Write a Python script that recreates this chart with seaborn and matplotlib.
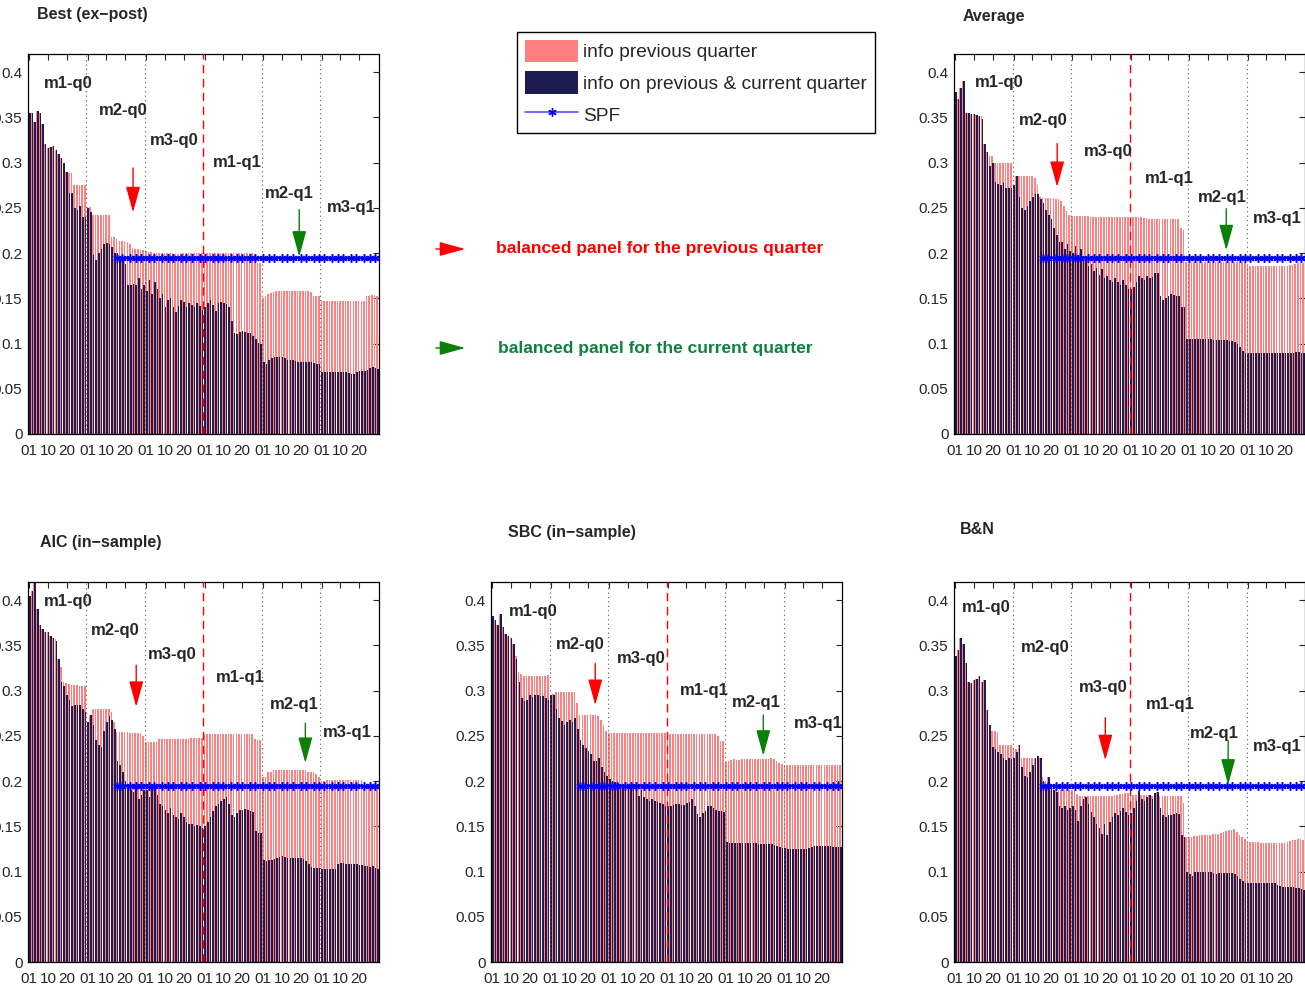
import matplotlib
matplotlib.use("Agg")

import matplotlib.pyplot as plt
from matplotlib.font_manager import fontManager
from matplotlib.lines import Line2D
from matplotlib.patches import FancyArrowPatch, Patch
import numpy as np
import seaborn as sns


# six months of 22 trading days each, one line per month
best_prev = [
    0.355, 0.355, 0.345, 0.357, 0.355, 0.343, 0.320, 0.316, 0.317, 0.318, 0.314, 0.310, 0.305, 0.300, 0.290, 0.288, 0.288, 0.275, 0.275, 0.275, 0.275, 0.275,
    0.251, 0.251, 0.242, 0.242, 0.242, 0.242, 0.242, 0.242, 0.242, 0.218, 0.218, 0.215, 0.213, 0.213, 0.213, 0.212, 0.210, 0.206, 0.205, 0.205, 0.203, 0.203,
    0.202, 0.201, 0.201, 0.200, 0.200, 0.200, 0.200, 0.200, 0.200, 0.200, 0.200, 0.199, 0.199, 0.199, 0.200, 0.200, 0.200, 0.200, 0.200, 0.200, 0.200, 0.200,
    0.200, 0.200, 0.200, 0.200, 0.200, 0.200, 0.200, 0.200, 0.200, 0.200, 0.200, 0.200, 0.200, 0.200, 0.200, 0.200, 0.200, 0.200, 0.200, 0.199, 0.189, 0.189,
    0.150, 0.152, 0.155, 0.156, 0.157, 0.158, 0.158, 0.158, 0.158, 0.158, 0.158, 0.158, 0.158, 0.158, 0.158, 0.158, 0.158, 0.158, 0.157, 0.153, 0.152, 0.152,
    0.147, 0.147, 0.147, 0.147, 0.147, 0.147, 0.147, 0.147, 0.147, 0.147, 0.147, 0.147, 0.147, 0.147, 0.147, 0.147, 0.147, 0.152, 0.153, 0.154, 0.154, 0.153,
]
best_both = [
    0.355, 0.355, 0.345, 0.357, 0.355, 0.343, 0.320, 0.316, 0.317, 0.318, 0.314, 0.310, 0.305, 0.300, 0.290, 0.266, 0.266, 0.250, 0.248, 0.252, 0.240, 0.240,
    0.250, 0.245, 0.198, 0.192, 0.200, 0.205, 0.210, 0.211, 0.210, 0.207, 0.200, 0.200, 0.196, 0.192, 0.188, 0.165, 0.165, 0.166, 0.165, 0.172, 0.160, 0.165,
    0.158, 0.170, 0.155, 0.168, 0.160, 0.150, 0.155, 0.140, 0.148, 0.150, 0.140, 0.135, 0.142, 0.148, 0.146, 0.140, 0.145, 0.143, 0.140, 0.145, 0.142, 0.137,
    0.140, 0.145, 0.148, 0.143, 0.136, 0.145, 0.146, 0.145, 0.144, 0.140, 0.125, 0.112, 0.110, 0.113, 0.114, 0.113, 0.112, 0.112, 0.108, 0.105, 0.101, 0.100,
    0.080, 0.077, 0.082, 0.084, 0.085, 0.085, 0.085, 0.085, 0.084, 0.082, 0.082, 0.082, 0.081, 0.080, 0.080, 0.080, 0.080, 0.080, 0.080, 0.078, 0.077, 0.077,
    0.069, 0.069, 0.069, 0.069, 0.069, 0.069, 0.069, 0.069, 0.068, 0.068, 0.067, 0.066, 0.066, 0.068, 0.070, 0.070, 0.070, 0.071, 0.073, 0.074, 0.073, 0.072,
]

avg_prev = [
    0.378, 0.370, 0.382, 0.390, 0.355, 0.355, 0.354, 0.354, 0.353, 0.352, 0.352, 0.320, 0.312, 0.307, 0.307, 0.300, 0.300, 0.300, 0.300, 0.300, 0.300, 0.300,
    0.275, 0.285, 0.285, 0.285, 0.285, 0.285, 0.285, 0.285, 0.283, 0.275, 0.262, 0.261, 0.261, 0.261, 0.261, 0.261, 0.260, 0.260, 0.258, 0.252, 0.246, 0.242,
    0.241, 0.241, 0.241, 0.241, 0.241, 0.241, 0.241, 0.240, 0.240, 0.240, 0.240, 0.240, 0.240, 0.240, 0.240, 0.240, 0.240, 0.240, 0.240, 0.240, 0.240, 0.240,
    0.240, 0.240, 0.240, 0.240, 0.240, 0.239, 0.239, 0.238, 0.238, 0.238, 0.238, 0.238, 0.238, 0.238, 0.238, 0.238, 0.238, 0.238, 0.238, 0.228, 0.225, 0.190,
    0.190, 0.190, 0.190, 0.190, 0.190, 0.190, 0.190, 0.190, 0.190, 0.190, 0.190, 0.190, 0.190, 0.190, 0.190, 0.190, 0.190, 0.190, 0.190, 0.190, 0.190, 0.190,
    0.186, 0.186, 0.186, 0.186, 0.186, 0.186, 0.186, 0.186, 0.186, 0.186, 0.186, 0.186, 0.186, 0.186, 0.186, 0.186, 0.187, 0.187, 0.188, 0.189, 0.189, 0.189,
]
avg_both = [
    0.378, 0.370, 0.382, 0.390, 0.355, 0.355, 0.354, 0.354, 0.353, 0.352, 0.348, 0.320, 0.312, 0.296, 0.300, 0.278, 0.276, 0.275, 0.277, 0.272, 0.272, 0.272,
    0.275, 0.285, 0.262, 0.250, 0.248, 0.252, 0.258, 0.262, 0.265, 0.265, 0.260, 0.255, 0.248, 0.242, 0.238, 0.228, 0.220, 0.212, 0.212, 0.205, 0.210, 0.202,
    0.200, 0.208, 0.198, 0.205, 0.196, 0.192, 0.186, 0.188, 0.180, 0.183, 0.176, 0.182, 0.172, 0.175, 0.170, 0.168, 0.172, 0.168, 0.165, 0.170, 0.165, 0.160,
    0.160, 0.163, 0.168, 0.175, 0.172, 0.170, 0.175, 0.172, 0.174, 0.178, 0.178, 0.152, 0.148, 0.150, 0.153, 0.155, 0.154, 0.153, 0.152, 0.140, 0.140, 0.105,
    0.105, 0.105, 0.105, 0.105, 0.105, 0.105, 0.105, 0.105, 0.105, 0.104, 0.104, 0.104, 0.104, 0.104, 0.104, 0.103, 0.103, 0.102, 0.100, 0.096, 0.092, 0.090,
    0.090, 0.089, 0.089, 0.089, 0.089, 0.089, 0.089, 0.089, 0.089, 0.089, 0.089, 0.089, 0.089, 0.089, 0.089, 0.090, 0.090, 0.090, 0.091, 0.091, 0.090, 0.090,
]

aic_prev = [
    0.405, 0.410, 0.425, 0.390, 0.372, 0.368, 0.365, 0.365, 0.360, 0.358, 0.357, 0.335, 0.326, 0.310, 0.308, 0.307, 0.306, 0.306, 0.306, 0.305, 0.305, 0.305,
    0.265, 0.273, 0.280, 0.280, 0.280, 0.280, 0.280, 0.280, 0.280, 0.276, 0.265, 0.254, 0.254, 0.254, 0.254, 0.254, 0.253, 0.253, 0.253, 0.253, 0.253, 0.250,
    0.243, 0.243, 0.243, 0.243, 0.243, 0.246, 0.246, 0.246, 0.246, 0.246, 0.246, 0.246, 0.246, 0.246, 0.246, 0.246, 0.246, 0.248, 0.248, 0.248, 0.248, 0.248,
    0.252, 0.252, 0.252, 0.252, 0.252, 0.252, 0.252, 0.252, 0.252, 0.252, 0.252, 0.252, 0.252, 0.252, 0.252, 0.252, 0.252, 0.252, 0.252, 0.247, 0.245, 0.245,
    0.205, 0.205, 0.210, 0.210, 0.212, 0.212, 0.212, 0.212, 0.212, 0.212, 0.212, 0.212, 0.212, 0.212, 0.212, 0.212, 0.212, 0.210, 0.210, 0.210, 0.208, 0.205,
    0.200, 0.200, 0.201, 0.201, 0.201, 0.201, 0.201, 0.201, 0.201, 0.201, 0.201, 0.201, 0.201, 0.201, 0.201, 0.201, 0.196, 0.196, 0.196, 0.196, 0.196, 0.196,
]
aic_both = [
    0.405, 0.410, 0.425, 0.390, 0.372, 0.368, 0.365, 0.365, 0.360, 0.358, 0.355, 0.335, 0.310, 0.305, 0.295, 0.290, 0.283, 0.284, 0.284, 0.284, 0.280, 0.276,
    0.265, 0.273, 0.262, 0.245, 0.240, 0.238, 0.255, 0.265, 0.272, 0.268, 0.258, 0.222, 0.218, 0.210, 0.200, 0.192, 0.190, 0.188, 0.192, 0.180, 0.185, 0.190,
    0.190, 0.182, 0.193, 0.192, 0.185, 0.175, 0.172, 0.168, 0.165, 0.170, 0.162, 0.160, 0.158, 0.165, 0.160, 0.155, 0.152, 0.153, 0.150, 0.151, 0.150, 0.148,
    0.150, 0.155, 0.160, 0.167, 0.172, 0.175, 0.178, 0.180, 0.182, 0.175, 0.163, 0.160, 0.165, 0.168, 0.168, 0.169, 0.168, 0.167, 0.166, 0.145, 0.143, 0.143,
    0.113, 0.112, 0.113, 0.113, 0.114, 0.115, 0.116, 0.117, 0.116, 0.115, 0.115, 0.115, 0.115, 0.115, 0.115, 0.114, 0.112, 0.108, 0.105, 0.104, 0.104, 0.104,
    0.103, 0.103, 0.103, 0.103, 0.103, 0.103, 0.108, 0.109, 0.109, 0.108, 0.108, 0.108, 0.108, 0.108, 0.107, 0.107, 0.106, 0.106, 0.105, 0.106, 0.104, 0.103,
]

sbc_prev = [
    0.382, 0.378, 0.372, 0.385, 0.370, 0.362, 0.360, 0.358, 0.352, 0.338, 0.320, 0.318, 0.316, 0.316, 0.316, 0.316, 0.316, 0.316, 0.316, 0.316, 0.316, 0.317,
    0.295, 0.296, 0.298, 0.298, 0.298, 0.298, 0.298, 0.298, 0.298, 0.298, 0.286, 0.273, 0.273, 0.273, 0.273, 0.273, 0.273, 0.273, 0.272, 0.268, 0.262, 0.255,
    0.253, 0.253, 0.253, 0.253, 0.253, 0.253, 0.253, 0.253, 0.253, 0.253, 0.253, 0.253, 0.253, 0.253, 0.253, 0.253, 0.253, 0.253, 0.253, 0.253, 0.253, 0.253,
    0.252, 0.252, 0.252, 0.252, 0.252, 0.252, 0.252, 0.252, 0.252, 0.252, 0.252, 0.252, 0.252, 0.252, 0.252, 0.252, 0.252, 0.252, 0.252, 0.250, 0.244, 0.244,
    0.221, 0.222, 0.223, 0.224, 0.223, 0.223, 0.224, 0.224, 0.224, 0.224, 0.224, 0.224, 0.224, 0.224, 0.224, 0.224, 0.224, 0.225, 0.224, 0.222, 0.220, 0.219,
    0.218, 0.218, 0.218, 0.218, 0.218, 0.218, 0.218, 0.218, 0.218, 0.218, 0.218, 0.218, 0.218, 0.218, 0.218, 0.218, 0.218, 0.218, 0.218, 0.218, 0.218, 0.218,
]
sbc_both = [
    0.382, 0.378, 0.372, 0.385, 0.370, 0.362, 0.360, 0.358, 0.352, 0.335, 0.310, 0.292, 0.288, 0.290, 0.295, 0.293, 0.295, 0.295, 0.294, 0.294, 0.292, 0.290,
    0.295, 0.295, 0.280, 0.270, 0.266, 0.262, 0.265, 0.268, 0.265, 0.270, 0.258, 0.245, 0.240, 0.236, 0.233, 0.230, 0.222, 0.222, 0.225, 0.215, 0.210, 0.206,
    0.202, 0.200, 0.199, 0.198, 0.197, 0.196, 0.195, 0.194, 0.193, 0.192, 0.191, 0.183, 0.190, 0.182, 0.180, 0.178, 0.180, 0.178, 0.177, 0.176, 0.175, 0.172,
    0.172, 0.172, 0.174, 0.175, 0.175, 0.174, 0.173, 0.176, 0.177, 0.180, 0.172, 0.164, 0.160, 0.165, 0.167, 0.172, 0.172, 0.170, 0.168, 0.167, 0.167, 0.166,
    0.133, 0.132, 0.132, 0.132, 0.132, 0.132, 0.132, 0.132, 0.131, 0.131, 0.131, 0.131, 0.130, 0.130, 0.130, 0.130, 0.130, 0.130, 0.129, 0.128, 0.127, 0.126,
    0.126, 0.125, 0.125, 0.125, 0.125, 0.125, 0.125, 0.125, 0.125, 0.126, 0.127, 0.128, 0.128, 0.128, 0.128, 0.128, 0.128, 0.128, 0.127, 0.127, 0.127, 0.127,
]

bn_prev = [
    0.338, 0.345, 0.358, 0.352, 0.330, 0.310, 0.308, 0.312, 0.313, 0.316, 0.310, 0.312, 0.278, 0.262, 0.255, 0.255, 0.254, 0.240, 0.240, 0.240, 0.240, 0.240,
    0.235, 0.235, 0.240, 0.225, 0.225, 0.225, 0.225, 0.225, 0.225, 0.228, 0.226, 0.205, 0.200, 0.205, 0.198, 0.194, 0.191, 0.190, 0.190, 0.190, 0.190, 0.190,
    0.190, 0.190, 0.186, 0.183, 0.183, 0.183, 0.183, 0.183, 0.183, 0.183, 0.183, 0.183, 0.183, 0.183, 0.184, 0.184, 0.185, 0.185, 0.186, 0.186, 0.187, 0.187,
    0.185, 0.185, 0.185, 0.189, 0.185, 0.185, 0.185, 0.185, 0.184, 0.187, 0.188, 0.184, 0.184, 0.184, 0.184, 0.184, 0.184, 0.184, 0.184, 0.184, 0.176, 0.138,
    0.138, 0.138, 0.139, 0.139, 0.140, 0.140, 0.140, 0.140, 0.140, 0.141, 0.141, 0.142, 0.143, 0.144, 0.145, 0.146, 0.146, 0.147, 0.144, 0.140, 0.138, 0.136,
    0.133, 0.133, 0.133, 0.133, 0.133, 0.132, 0.132, 0.132, 0.132, 0.132, 0.132, 0.132, 0.132, 0.132, 0.132, 0.133, 0.134, 0.135, 0.135, 0.136, 0.136, 0.135,
]
bn_both = [
    0.338, 0.345, 0.358, 0.352, 0.330, 0.310, 0.308, 0.312, 0.313, 0.316, 0.310, 0.312, 0.278, 0.262, 0.238, 0.235, 0.232, 0.230, 0.225, 0.223, 0.225, 0.224,
    0.226, 0.232, 0.240, 0.215, 0.206, 0.205, 0.210, 0.218, 0.225, 0.228, 0.225, 0.200, 0.196, 0.205, 0.195, 0.190, 0.188, 0.172, 0.170, 0.172, 0.168, 0.170,
    0.172, 0.168, 0.156, 0.172, 0.180, 0.182, 0.175, 0.166, 0.160, 0.152, 0.148, 0.142, 0.152, 0.140, 0.155, 0.160, 0.165, 0.163, 0.167, 0.170, 0.166, 0.163,
    0.165, 0.170, 0.178, 0.189, 0.180, 0.178, 0.182, 0.185, 0.180, 0.187, 0.188, 0.170, 0.163, 0.160, 0.162, 0.163, 0.164, 0.165, 0.164, 0.140, 0.138, 0.100,
    0.097, 0.095, 0.099, 0.100, 0.100, 0.100, 0.100, 0.100, 0.099, 0.098, 0.097, 0.098, 0.098, 0.098, 0.098, 0.098, 0.098, 0.097, 0.095, 0.092, 0.090, 0.087,
    0.087, 0.087, 0.087, 0.087, 0.087, 0.087, 0.087, 0.087, 0.087, 0.087, 0.087, 0.085, 0.084, 0.083, 0.083, 0.083, 0.083, 0.083, 0.082, 0.082, 0.081, 0.080,
]

SPF_LEVEL = 0.194
SPF_START_DAY = 33

MONTH_LABELS = ["m1-q0", "m2-q0", "m3-q0", "m1-q1", "m2-q1", "m3-q1"]
DAY_TICK_LABELS = ["01", "10", "20"]
DAY_TICK_OFFSETS = [0, 7, 14]
Y_TICKS = [0, 0.05, 0.1, 0.15, 0.2, 0.25, 0.3, 0.35, 0.4]
Y_TICK_LABELS = ["0", "0.05", "0.1", "0.15", "0.2", "0.25", "0.3", "0.35", "0.4"]

DAYS_PER_MONTH = 22
N_DAYS = 6 * DAYS_PER_MONTH

PINK = "#ff8080"
NAVY = "#1c1c50"
SPF_BLUE = "#0000ff"
RED = "#ff0000"
GREEN = "#0a800a"
NOTE_GREEN = "#108040"
ASTERISK = (6, 2, 0)

W, H = 1305, 990

PANELS = [
    dict(prev=best_prev, both=best_both, title="Best (ex\u2212post)", title_xy=(37, 14), ax_xy=(28, 54),
         labels=[(5.3, 0.387), (26, 0.358), (45.5, 0.324), (69.2, 0.300), (88.7, 0.266), (112, 0.250)],
         red=(39, 0.294, 0.245), green=(101.5, 0.248, 0.196)),
    dict(prev=avg_prev, both=avg_both, title="Average", title_xy=(963, 16), ax_xy=(954, 54),
         labels=[(7.5, 0.389), (24, 0.346), (48.5, 0.312), (71.4, 0.282), (91.4, 0.261), (112, 0.238)],
         red=(38.3, 0.321, 0.273), green=(101.9, 0.249, 0.203)),
    dict(prev=aic_prev, both=aic_both, title="AIC (in\u2212sample)", title_xy=(40, 542), ax_xy=(28, 582),
         labels=[(5.3, 0.398), (23.3, 0.366), (44.7, 0.340), (70.3, 0.314), (90.6, 0.285), (110.5, 0.254)],
         red=(40.2, 0.328, 0.282), green=(103.8, 0.264, 0.220)),
    dict(prev=sbc_prev, both=sbc_both, title="SBC (in\u2212sample)", title_xy=(508, 533), ax_xy=(491, 582),
         labels=[(6.4, 0.387), (24, 0.351), (47, 0.335), (70.7, 0.300), (90.2, 0.287), (113.5, 0.264)],
         red=(38.7, 0.330, 0.284), green=(101.9, 0.273, 0.228)),
    dict(prev=bn_prev, both=bn_both, title="B&N", title_xy=(960, 530), ax_xy=(954, 582),
         labels=[(2.6, 0.392), (24.8, 0.348), (46.6, 0.303), (71.8, 0.285), (88.3, 0.253), (112, 0.238)],
         red=(56.4, 0.270, 0.223), green=(102.6, 0.245, 0.196)),
]

AX_W, AX_H = 351, 380
ARROW = "-|>,head_length=0.8,head_width=0.22"

installed = {f.name for f in fontManager.ttflist}
NARROW = ["Liberation Sans Narrow"] if "Liberation Sans Narrow" in installed else []


def down_arrow(ax, spec, color):
    x, tail, tip = spec
    ax.annotate("", xy=(x, tip), xytext=(x, tail),
                arrowprops=dict(arrowstyle=ARROW, color=color, lw=1.0,
                                mutation_scale=20, shrinkA=0, shrinkB=0),
                zorder=6)


def draw_panel(fig, cfg):
    left, top = cfg["ax_xy"]
    ax = fig.add_axes([left / W, 1 - (top + AX_H) / H, AX_W / W, AX_H / H])

    days = np.arange(N_DAYS)
    # pink bars slightly left, navy bars slightly right and on top
    sns.barplot(x=days - 0.15, y=cfg["prev"], native_scale=True, width=0.6,
                color=PINK, saturation=1, errorbar=None, linewidth=0,
                edgecolor="none", ax=ax)
    sns.barplot(x=days + 0.15, y=cfg["both"], native_scale=True, width=0.6,
                color=NAVY, saturation=1, errorbar=None, linewidth=0,
                edgecolor="none", ax=ax)

    spf_days = np.arange(SPF_START_DAY, N_DAYS)
    ax.plot(spf_days, np.full(len(spf_days), SPF_LEVEL), color=SPF_BLUE, lw=1.4,
            marker=ASTERISK, ms=6, mew=1.1, markevery=0.0122, zorder=5)

    for m in (1, 2, 4, 5):
        ax.axvline(m * DAYS_PER_MONTH - 0.5, color="0.35", ls=(0, (1, 3)), lw=0.8, zorder=4)
    ax.axvline(3 * DAYS_PER_MONTH - 0.5, color=RED, ls=(0, (6, 4)), lw=1.0, zorder=4)

    for label, (x, y) in zip(MONTH_LABELS, cfg["labels"]):
        ax.text(x, y, label, fontsize=12, fontweight="bold", ha="left", va="center", zorder=7)

    down_arrow(ax, cfg["red"], RED)
    down_arrow(ax, cfg["green"], GREEN)

    ticks = [m * DAYS_PER_MONTH + off for m in range(6) for off in DAY_TICK_OFFSETS]
    ax.set_xticks(ticks)
    ax.set_xticklabels(DAY_TICK_LABELS * 6)
    ax.set_yticks(Y_TICKS)
    ax.set_yticklabels(Y_TICK_LABELS)
    ax.set_xlim(-0.5, N_DAYS - 0.5)
    ax.set_ylim(0, 0.42)
    ax.set_xlabel("")
    ax.set_ylabel("")
    ax.tick_params(direction="in", length=4, width=0.8, top=True, right=True,
                   labelsize=11, pad=4)
    ax.tick_params(axis="x", pad=7)
    for lab in ax.get_xticklabels() + ax.get_yticklabels():
        lab.set_family(NARROW + ["Liberation Sans", "DejaVu Sans"])
    for spine in ax.spines.values():
        spine.set_visible(True)
        spine.set_color("black")
        spine.set_linewidth(0.9)

    tx, ty = cfg["title_xy"]
    fig.text(tx / W, 1 - ty / H, cfg["title"], fontsize=11.5, fontweight="bold",
             ha="left", va="center")
    return ax


def main():
    sns.set_theme(style="white")
    plt.rcParams["font.family"] = ["Liberation Sans", "DejaVu Sans"]

    fig = plt.figure(figsize=(W / 100, H / 100), dpi=100)
    fig.patch.set_facecolor("white")

    for cfg in PANELS:
        draw_panel(fig, cfg)

    handles = [
        Patch(facecolor=PINK, edgecolor="none"),
        Patch(facecolor=NAVY, edgecolor="none"),
        Line2D([], [], color="#5050ff", lw=1.2, marker=ASTERISK, ms=6, mew=1.0, mec=SPF_BLUE),
    ]
    labels = ["info previous quarter", "info on previous & current quarter", "SPF"]
    leg = fig.legend(handles, labels, loc="upper left", bbox_to_anchor=(517 / W, 1 - 32 / H),
                     frameon=True, fancybox=False, edgecolor="black", framealpha=1,
                     prop={"family": NARROW + ["Liberation Sans", "DejaVu Sans"],
                           "size": 15 if NARROW else 13.8},
                     handlelength=2.8, handleheight=1.4, labelspacing=0.5,
                     borderpad=0.4, handletextpad=0.25, borderaxespad=0)
    leg.get_frame().set_linewidth(1.0)

    # notes explaining the arrows
    for y_px, arrow_color, text_color, text, text_x in [
        (249, RED, RED, "balanced panel for the previous quarter", 496),
        (348, GREEN, NOTE_GREEN, "balanced panel for the current quarter", 498),
    ]:
        fig.add_artist(FancyArrowPatch(
            (433 / W, 1 - y_px / H), (468 / W, 1 - y_px / H), transform=fig.transFigure,
            arrowstyle=ARROW, mutation_scale=20, color=arrow_color, lw=1.0))
        fig.text(text_x / W, 1 - y_px / H, text, color=text_color, fontsize=12.5,
                 fontweight="bold", ha="left", va="center")

    fig.savefig("out.png", dpi=100)
    plt.close(fig)


if __name__ == "__main__":
    main()
